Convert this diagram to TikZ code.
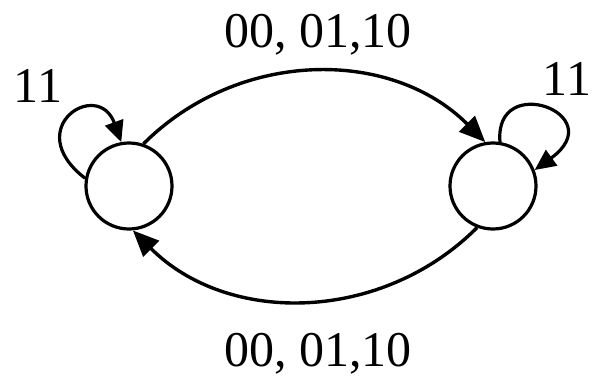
\documentclass[tikz,border=0pt]{standalone}
\usepackage{fontspec}
\setmainfont{Liberation Serif}
\usetikzlibrary{arrows.meta}
\begin{document}
\begin{tikzpicture}[x=1pt,y=1pt,
  state/.style={circle,draw,line width=3.2pt,inner sep=0pt,minimum size=86pt},
  edge/.style={line width=3.4pt,-{Triangle[length=26pt,width=22pt]}},
  loopedge/.style={line width=3.2pt,-{Triangle[length=21pt,width=19pt]}},
  lbl/.style={font=\fontsize{50}{50}\selectfont,anchor=base,inner sep=0pt}]
\useasboundingbox (0,0) rectangle (598,376);
\node[state] (L) at (129,190) {};
\node[state] (R) at (493,190) {};
\draw[edge] (L.71) to[out=45,in=135] (R.100);
\draw[edge] (R.249) to[out=225,in=315] (L.275);
\draw[loopedge] (L.170) .. controls (20,248) and (98,298) .. (L.100);
\draw[loopedge] (R.81) .. controls (494,305) and (612,262) .. (R.21);
\node[lbl] (t) at (318,329) {00, 01,10};
\node[lbl] (b) at (318,10) {00, 01,10};
\node[lbl] (l) at (38,274) {11};
\node[lbl] (r) at (567,281) {11};
\end{tikzpicture}
\end{document}
